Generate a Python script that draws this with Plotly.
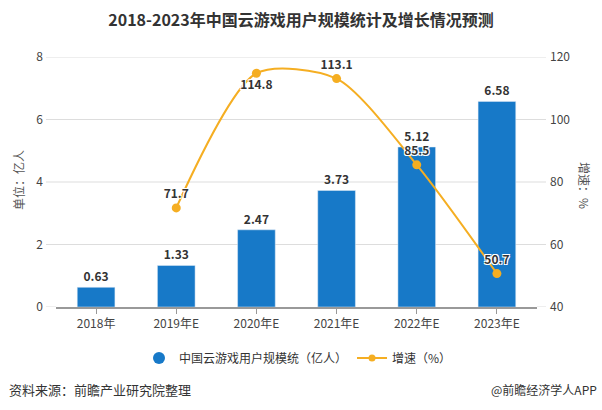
import plotly.graph_objects as go

categories = ["2018年", "2019年E", "2020年E", "2021年E", "2022年E", "2023年E"]
users = [0.63, 1.33, 2.47, 3.73, 5.12, 6.58]
growth_categories = ["2019年E", "2020年E", "2021年E", "2022年E", "2023年E"]
growth = [71.7, 114.8, 113.1, 85.5, 50.7]
growth_label_pos = ["top center", "bottom center", "top center", "top center", "top center"]
left_ticks = [0, 2, 4, 6, 8]
right_ticks = [40, 60, 80, 100, 120]

FONT = "Noto Sans CJK SC, Microsoft YaHei, sans-serif"
BLUE = "#1779C8"
ORANGE = "#F5AE22"

L, R, T, B = 56, 537, 57, 307
PW, PH = R - L, B - T

def px(x):
    return (x - L) / PW

def py(y):
    return (B - y) / PH

fig = go.Figure()
fig.add_trace(go.Bar(
    x=categories, y=users, marker_color=BLUE, width=0.47,
    text=[f"{v:.2f}" for v in users], textposition="outside",
    textfont=dict(size=12, color="#333", family=FONT, weight="bold"),
    cliponaxis=False, showlegend=False, hoverinfo="skip",
))
fig.add_trace(go.Scatter(
    x=growth_categories, y=growth, yaxis="y2", mode="lines+markers+text",
    line=dict(color=ORANGE, width=2, shape="spline", smoothing=0.75),
    marker=dict(color=ORANGE, size=9),
    text=[f"{v:.1f}" for v in growth], textposition=growth_label_pos,
    textfont=dict(size=12, color="#333", family=FONT, weight="bold",
                  shadow="-1px -1px 0 #fff, 1px -1px 0 #fff, -1px 1px 0 #fff, 1px 1px 0 #fff"),
    cliponaxis=False, showlegend=False,
))
# legend entries
fig.add_trace(go.Scatter(x=[None], y=[None], mode="markers", name="中国云游戏用户规模统（亿人）",
                         marker=dict(color=BLUE, size=12, symbol="circle")))
fig.add_trace(go.Scatter(x=[None], y=[None], mode="lines+markers", name="增速（%）",
                         line=dict(color=ORANGE, width=2), marker=dict(color=ORANGE, size=7)))

shapes = []
for v in left_ticks[1:]:
    shapes.append(dict(type="line", xref="paper", yref="y", x0=px(46), x1=px(546), y0=v, y1=v,
                       line=dict(color="#dddddd", width=1), layer="below"))
shapes.append(dict(type="line", xref="paper", yref="y", x0=px(46), x1=0, y0=0, y1=0,
                   line=dict(color="#dddddd", width=1), layer="below"))
shapes.append(dict(type="line", xref="paper", yref="y", x0=1, x1=px(546), y0=0, y1=0,
                   line=dict(color="#dddddd", width=1), layer="below"))

fig.update_layout(
    width=602, height=410,
    margin=dict(l=L, r=602 - R, t=T, b=410 - B),
    paper_bgcolor="white", plot_bgcolor="white",
    font=dict(family=FONT, size=12, color="#333"),
    title=dict(text="<b>2018-2023年中国云游戏用户规模统计及增长情况预测</b>", x=0.5, xanchor="center",
               y=1 - 20 / 410, yanchor="middle", font=dict(size=16, color="#333", family=FONT)),
    xaxis=dict(type="category", categoryorder="array", categoryarray=categories,
               showline=True, linecolor="#999", linewidth=1.5, ticks="outside", ticklen=5,
               tickcolor="#999", showgrid=False, tickfont=dict(size=12, color="#444"), fixedrange=True),
    yaxis=dict(range=[0, 8], tickvals=left_ticks, showgrid=False, zeroline=False,
               tickfont=dict(size=12, color="#444"), ticklabelstandoff=12),
    yaxis2=dict(range=[40, 120], tickvals=right_ticks, overlaying="y", side="right",
                showgrid=False, zeroline=False, tickfont=dict(size=12, color="#444"),
                ticklabelstandoff=12),
    shapes=shapes,
    legend=dict(orientation="h", x=px(298), xanchor="center", y=py(358), yanchor="middle",
                font=dict(size=12, color="#333"), itemwidth=30, tracegroupgap=0,
                entrywidth=0),
    bargap=0.5,
    annotations=[
        dict(text="单位：亿人", xref="paper", yref="paper", x=px(18), y=py(180), textangle=-90,
             showarrow=False, font=dict(size=12, color="#555"), xanchor="center", yanchor="middle"),
        dict(text="增速：%", xref="paper", yref="paper", x=px(585), y=py(185), textangle=90,
             showarrow=False, font=dict(size=12, color="#555"), xanchor="center", yanchor="middle"),
        dict(text="资料来源：前瞻产业研究院整理", xref="paper", yref="paper", x=px(7), y=py(389),
             xanchor="left", yanchor="middle", showarrow=False, font=dict(size=13, color="#333")),
        dict(text="@前瞻经济学人APP", xref="paper", yref="paper", x=px(599), y=py(389),
             xanchor="right", yanchor="middle", showarrow=False, font=dict(size=12, color="#333")),
    ],
)
fig.write_html("out.html", config={"displayModeBar": False},
               post_script="document.body.style.margin='0';document.body.style.overflow='hidden';")
